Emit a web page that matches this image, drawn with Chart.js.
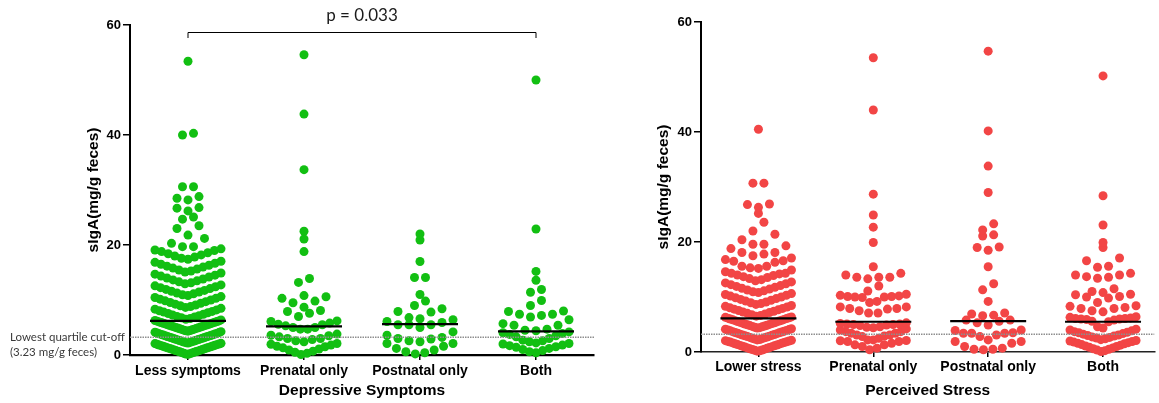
<!DOCTYPE html>
<html>
<head>
<meta charset="utf-8">
<script src="https://cdn.jsdelivr.net/npm/chart.js@4.4.1/dist/chart.umd.min.js"></script>
<style>
html,body{margin:0;padding:0;background:#fff;}
body{width:1159px;height:403px;position:relative;overflow:hidden;}
canvas{position:absolute;top:0;}
#depChart{left:0;}
#stressChart{left:600px;}
</style>
</head>
<body>
<canvas id="depChart" width="600" height="403" style="width:600px;height:403px"></canvas>
<canvas id="stressChart" width="559" height="403" style="width:559px;height:403px"></canvas>
<script>
// ---------------- DATA ----------------
const depCategories = ['Less symptoms', 'Prenatal only', 'Postnatal only', 'Both'];
const stressCategories = ['Lower stress', 'Prenatal only', 'Postnatal only', 'Both'];
const yTickValues = [0, 20, 40, 60];

const depLess = [
  0.12,0.18,0.25,0.3,0.38,0.44,0.5,0.57,0.63,0.7,0.75,0.82,0.88,0.95,1.0,1.07,1.13,1.2,1.26,1.32,1.38,1.45,1.5,1.57,1.63,1.7,1.76,1.82,1.88,1.95,2.0,2.07,2.12,
  2.18,2.25,2.3,2.37,2.43,2.5,2.55,2.62,2.68,2.75,2.8,2.87,2.93,3.0,3.05,3.12,3.18,3.25,3.3,3.37,3.43,3.5,3.55,3.62,3.68,3.75,3.8,3.87,3.93,4.0,4.07,4.15,4.25,
  4.33,4.4,4.46,4.52,4.58,4.65,4.7,4.77,4.83,4.9,4.95,5.02,5.08,5.15,5.2,5.27,5.33,5.4,5.45,5.52,5.58,5.65,5.7,5.77,5.83,5.9,5.95,6.02,6.08,6.15,6.2,6.28,6.38,
  6.5,6.63,6.77,6.9,7.02,7.15,7.28,7.4,7.55,7.68,7.8,7.93,8.05,8.2,8.33,8.48,
  8.65,8.8,8.95,9.1,9.25,9.4,9.55,9.7,9.85,10.0,10.15,10.3,10.45,10.62,
  10.8,10.95,11.12,11.28,11.45,11.6,11.75,11.92,12.08,12.25,12.4,12.57,12.75,
  12.95,13.12,13.3,13.48,13.65,13.82,14.0,14.18,14.35,14.52,14.7,14.9,
  15.1,15.28,15.45,15.62,15.8,15.98,16.15,16.32,16.5,16.68,16.85,17.05,
  17.4,17.6,17.8,18.0,18.2,18.4,18.6,18.8,19.0,19.1,19.3,
  19.7,19.7,20.3,21.2,21.8,23.0,23.5,24.7,25.1,26.2,26.7,26.8,28.2,28.5,28.8,30.6,30.6,40.0,40.3,53.4
];
const depPrenatal = [
  0.1,0.3,0.5,0.7,0.9,1.1,1.3,1.5,1.6,1.8,1.95,2.1,
  2.4,2.6,2.8,3.0,3.0,3.3,3.5,3.6,3.8,
  4.7,4.7,5.0,5.0,5.3,5.5,5.6,5.8,6.1,6.2,
  7.0,7.6,7.9,8.1,
  8.7,9.5,9.8,10.3,10.6,
  10.8,13.2,13.9,18.8,21.1,22.5,33.7,43.8,54.6
];
const depPostnatal = [
  0.2,0.4,0.6,0.9,1.2,1.6,2.1,2.1,
  2.4,2.6,2.9,3.0,3.2,3.6,4.2,
  5.0,5.5,5.5,5.5,5.9,6.1,6.4,
  6.6,6.8,7.8,7.9,8.4,
  9.0,9.8,
  11.0,14.1,14.1,17.0,20.9,22.0
];
const depBoth = [
  0.4,0.6,0.8,1.0,1.2,1.4,1.5,1.7,1.8,2.0,2.1,
  2.2,2.4,2.6,2.7,3.0,3.3,3.5,3.75,3.9,4.05,4.2,
  4.4,4.5,4.7,5.4,5.4,5.7,6.4,
  6.9,7.2,7.4,7.4,7.9,8.0,
  9.0,9.9,11.4,11.9,13.6,15.2,22.9,50.0
];

const stressLower = [
  0.15,0.22,0.3,0.37,0.45,0.52,0.6,0.67,0.75,0.82,0.9,0.97,1.05,1.12,1.2,1.27,1.35,1.42,1.5,1.57,1.65,1.72,1.8,1.87,1.93,2.0,2.06,2.12,
  2.2,2.27,2.35,2.42,2.5,2.58,2.65,2.73,2.8,2.88,2.95,3.03,3.1,3.18,3.25,3.33,3.4,3.48,3.55,3.63,3.7,3.78,3.85,3.93,4.0,4.08,4.15,4.23,
  4.35,4.42,4.5,4.57,4.65,4.72,4.8,4.87,4.95,5.02,5.1,5.17,5.25,5.32,5.4,5.47,5.55,5.62,5.7,5.77,5.85,5.92,6.0,6.07,6.15,6.22,6.3,6.38,
  6.52,6.65,6.78,6.9,7.03,7.16,7.28,7.41,7.54,7.66,7.79,7.92,8.05,8.18,8.3,8.45,
  8.65,8.8,8.95,9.1,9.26,9.41,9.56,9.71,9.86,10.0,10.16,10.31,10.46,10.62,
  10.8,10.96,11.12,11.28,11.44,11.6,11.76,11.92,12.08,12.24,12.4,12.56,12.74,
  12.95,13.15,13.35,13.55,13.7,13.9,14.0,14.2,14.3,14.3,14.6,14.9,
  15.2,15.3,15.6,15.6,16.3,16.5,16.6,16.8,17.1,
  17.5,17.8,18.1,18.1,18.8,19.3,
  19.6,19.6,20.4,21.4,
  22.0,23.6,25.2,26.3,26.8,26.9,30.7,30.7,40.5
];
const stressPrenatal = [
  0.4,0.7,1.0,1.3,1.3,1.6,1.9,1.9,2.05,2.1,
  2.2,2.2,2.5,2.8,2.9,3.1,3.1,3.4,3.4,3.7,3.7,4.0,4.2,
  4.4,4.5,4.6,4.8,4.9,5.0,5.0,5.1,5.1,5.2,5.3,
  7.1,7.1,7.5,7.8,7.9,7.9,8.2,8.2,
  9.0,9.2,9.9,10.0,10.0,10.1,10.1,10.2,10.3,10.5,
  11.1,12.0,13.3,13.6,13.6,13.6,14.0,14.3,
  15.5,19.9,22.7,24.9,28.7,44.0,53.5
];
const stressPostnatal = [
  0.4,0.5,0.5,0.7,1.0,1.6,1.9,1.9,
  2.2,2.8,3.1,3.4,3.4,3.4,3.5,3.9,4.0,
  4.9,5.3,5.6,5.8,5.8,
  6.6,6.7,6.9,7.1,
  9.2,11.3,12.4,15.5,18.5,19.0,19.1,21.1,21.3,22.2,23.3,29.0,33.8,40.2,54.7
];
const stressBoth = [
  0.1,0.25,0.35,0.5,0.6,0.75,0.85,1.0,1.1,1.25,1.35,1.5,1.6,1.7,1.8,1.9,2.0,2.1,
  2.25,2.4,2.55,2.65,2.75,2.9,3.0,3.1,3.25,3.35,3.5,3.6,3.7,3.85,4.0,4.15,
  4.35,4.6,5.5,5.6,5.8,5.9,6.0,6.0,6.1,6.1,6.2,6.3,6.4,
  7.3,7.5,7.9,7.9,8.1,8.3,8.4,
  9.0,9.8,10.0,10.1,10.4,10.5,
  10.8,11.0,11.5,
  13.4,13.6,13.7,14.0,14.0,14.3,
  15.4,15.6,16.6,17.1,19.0,19.9,23.1,28.4,50.2
];

const depMedians = [6.2, 5.2, 5.6, 4.3];
const stressMedians = [6.1, 5.5, 5.6, 5.5];
const cutoffValue = 3.23;
const pValueText = 'p = 0.033';
const cutoffLabelLines = ['Lowest quartile cut-off', '(3.23 mg/g feces)'];

// ---------------- STYLE / LAYOUT ----------------
Chart.defaults.font.family = "'Liberation Sans', Arial, sans-serif";
const GREEN = '#12bf12';
const RED = '#f24545';
const POINT_R = 4.5;
const BIN = 2.15;        // value-height of one swarm row
const MAX_STEP_PX = 11;  // max horizontal spacing between dots
const HALF_W_PX = 33;    // max half-width of a swarm row
const MEDIAN_HALF_PX = 38;

function swarm(values, cat, pxPerUnit) {
  const bins = new Map();
  values.slice().sort((a, b) => a - b).forEach(v => {
    const k = Math.floor(v / BIN + 1e-9);
    if (!bins.has(k)) bins.set(k, []);
    bins.get(k).push(v);
  });
  const pts = [];
  bins.forEach(arr => {
    const n = arr.length;
    const step = n > 1 ? Math.min(MAX_STEP_PX, 2 * HALF_W_PX / (n - 1)) : 0;
    arr.forEach((v, i) => {
      let off;
      if (n % 2 === 1) {
        const r = Math.ceil(i / 2);
        off = (i % 2 === 1 ? -1 : 1) * r * step;
      } else {
        const r = Math.floor(i / 2) + 0.5;
        off = (i % 2 === 0 ? -1 : 1) * r * step;
      }
      pts.push({x: cat + off / pxPerUnit, y: v});
    });
  });
  return pts;
}

const boldFont = (size) => ({family: "'Liberation Sans', Arial, sans-serif", weight: 'bold', size});

function buildChart(cfg) {
  const datasets = [];
  cfg.medians.forEach((m, i) => datasets.push({
    type: 'line', data: [{x: i, y: m}, {x: i, y: m}], borderColor: '#000', borderWidth: 2.2,
    pointRadius: 0, fill: false, order: 0, clip: false, kind: 'median', cat: i, value: m
  }));
  datasets.push({
    type: 'line', data: [{x: -0.5, y: cfg.cutoff}, {x: cfg.xMax, y: cfg.cutoff}],
    borderColor: '#8e8e8e', borderWidth: 1.4, borderDash: [1.5, 1], pointRadius: 0, fill: false, order: 1
  });
  cfg.groups.forEach((vals, i) => datasets.push({
    type: 'scatter', data: vals.map(v => ({x: i, y: v})), backgroundColor: cfg.color,
    borderWidth: 0, pointRadius: POINT_R, pointHoverRadius: POINT_R, order: 2, clip: false,
    kind: 'swarm', cat: i, values: vals
  }));

  const chart = new Chart(document.getElementById(cfg.id), {
    type: 'scatter',
    data: {datasets},
    options: {
      responsive: false, animation: false, events: [],
      layout: {padding: cfg.padding},
      plugins: {legend: {display: false}, tooltip: {enabled: false}, title: {display: false}},
      scales: {
        x: {
          type: 'linear', min: -0.5, max: cfg.xMax,
          afterBuildTicks: s => { s.ticks = cfg.categories.map((c, i) => ({value: i})); },
          afterFit: s => { s.height = cfg.xAxisHeight; },
          ticks: {callback: v => cfg.categories[v], font: boldFont(14), color: '#000',
                  padding: cfg.xTickPad, maxRotation: 0, minRotation: 0, autoSkip: false},
          grid: {drawOnChartArea: false, drawTicks: true, tickLength: 5, color: '#000', lineWidth: 1.5},
          border: {color: cfg.xBorderColor, width: cfg.xBorderWidth},
          title: {display: true, text: cfg.xTitle, font: boldFont(15.5), color: '#000', padding: {top: 0, bottom: 3}}
        },
        y: {
          type: 'linear', min: 0, max: 60,
          afterBuildTicks: s => { s.ticks = yTickValues.map(v => ({value: v})); },
          afterFit: s => { s.width = cfg.yAxisWidth; },
          ticks: {font: boldFont(13), color: '#000', padding: 2},
          grid: {drawOnChartArea: false, drawTicks: true, tickLength: 7, color: '#000', lineWidth: 1.5},
          border: {color: '#000', width: 2},
          title: {display: true, text: 'sIgA(mg/g feces)', font: boldFont(15.5), color: '#000', padding: {top: 0, bottom: 0}}
        }
      }
    },
    plugins: cfg.plugins || []
  });

  const xs = chart.scales.x;
  const pxPerUnit = xs.getPixelForValue(1) - xs.getPixelForValue(0);
  chart.data.datasets.forEach(ds => {
    if (ds.kind === 'swarm') ds.data = swarm(ds.values, ds.cat, pxPerUnit);
    if (ds.kind === 'median') {
      const h = MEDIAN_HALF_PX / pxPerUnit;
      ds.data = [{x: ds.cat - h, y: ds.value}, {x: ds.cat + h, y: ds.value}];
    }
  });
  chart.update('none');
  return chart;
}

const depAnnotations = {
  id: 'depAnnotations',
  afterDraw(chart) {
    const ctx = chart.ctx;
    const xs = chart.scales.x, ys = chart.scales.y;
    const x0 = xs.getPixelForValue(0), x1 = xs.getPixelForValue(3);
    const yb = chart.chartArea.top + 7.5;
    ctx.save();
    ctx.strokeStyle = '#000';
    ctx.lineWidth = 1;
    ctx.beginPath();
    ctx.moveTo(x0, yb + 5.5); ctx.lineTo(x0, yb); ctx.lineTo(x1, yb); ctx.lineTo(x1, yb + 5.5);
    ctx.stroke();
    ctx.fillStyle = '#1a1a1a';
    ctx.font = "17px Lato, 'Open Sans', sans-serif";
    ctx.textAlign = 'center';
    ctx.textBaseline = 'middle';
    ctx.fillText(pValueText, (x0 + x1) / 2, yb - 17);
    // cut-off label
    ctx.fillStyle = '#3a3a3a';
    ctx.font = "11.5px Lato, 'Open Sans', sans-serif";
    ctx.textAlign = 'left';
    const yc = ys.getPixelForValue(cutoffValue);
    ctx.fillText(cutoffLabelLines[0], 10, yc);
    ctx.fillText(cutoffLabelLines[1], 10, yc + 15);
    ctx.restore();
  }
};

buildChart({
  id: 'depChart', categories: depCategories, groups: [depLess, depPrenatal, depPostnatal, depBoth],
  medians: depMedians, cutoff: cutoffValue, color: GREEN, xMax: 3.5,
  padding: {left: 84, top: 25, right: 6, bottom: 0}, yAxisWidth: 46, xAxisHeight: 48, xTickPad: 3,
  xTitle: 'Depressive Symptoms', xBorderColor: '#000', xBorderWidth: 2.2, plugins: [depAnnotations]
});

buildChart({
  id: 'stressChart', categories: stressCategories, groups: [stressLower, stressPrenatal, stressPostnatal, stressBoth],
  medians: stressMedians, cutoff: cutoffValue, color: RED, xMax: 3.448,
  padding: {left: 54, top: 22, right: 0, bottom: 0}, yAxisWidth: 47, xAxisHeight: 51, xTickPad: 2,
  xTitle: 'Perceived Stress', xBorderColor: '#222', xBorderWidth: 1.6
});
</script>
</body>
</html>
